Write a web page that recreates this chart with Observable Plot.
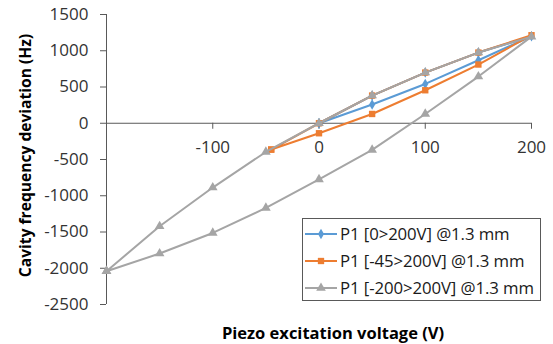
<!DOCTYPE html>
<html>
<head>
<meta charset="utf-8">
<script src="https://cdn.jsdelivr.net/npm/d3@7"></script>
<script src="https://cdn.jsdelivr.net/npm/@observablehq/plot@0.6"></script>
<style>
  html, body { margin: 0; padding: 0; background: #fff; }
  #wrap { position: relative; width: 553px; height: 344px; font-family: "Open Sans", Lato, sans-serif; }
  #legend { position: absolute; left: 302px; top: 218px; width: 239px; height: 83px; border: 1px solid #595959; box-sizing: border-box; background: #fff; padding: 1px 0 0 0; }
  .item { display: flex; align-items: center; height: 27px; font-size: 16.8px; color: #1a1a1a; white-space: nowrap; letter-spacing: -0.1px; }
  .item svg { flex: none; margin-right: 1px; }
</style>
</head>
<body>
<div id="wrap"></div>
<script>
// Series names
const seriesNames = ["P1 [0>200V] @1.3 mm", "P1 [-45>200V] @1.3 mm", "P1 [-200>200V] @1.3 mm"];
const seriesColors = ["#5B9BD5", "#ED7D31", "#A5A5A5"];
const seriesSymbols = ["diamond", "square", "triangle"];

// Series 1: 0 -> 200 -> 0
const s1Voltage = [0, 50, 100, 150, 200, 150, 100, 50, 0];
const s1Freq    = [0, 258, 542, 869, 1200, 975, 699, 382, 0];

// Series 2: -45 -> 200 -> -45
const s2Voltage = [-45, 0, 50, 100, 150, 200, 150, 100, 50, 0, -45];
const s2Freq    = [-363, -138, 128, 455, 810, 1214, 975, 699, 382, 0, -363];

// Series 3: -200 -> 200 -> -200
const s3Voltage = [-200, -150, -100, -50, 0, 50, 100, 150, 200, 150, 100, 50, 0, -50, -100, -150, -200];
const s3Freq    = [-2041, -1797, -1513, -1168, -775, -368, 128, 644, 1195, 975, 699, 382, 0, -396, -887, -1421, -2041];

// Axis ticks
const xTicks = [-100, 0, 100, 200];
const yTicks = [-2500, -2000, -1500, -1000, -500, 0, 500, 1000, 1500];

const xLabel = "Piezo excitation voltage (V)";
const yLabel = "Cavity frequency deviation (Hz)";

const toRows = (vs, fs, s) => vs.map((v, i) => ({v, f: fs[i], s}));
const rows = [
  ...toRows(s1Voltage, s1Freq, 0),
  ...toRows(s2Voltage, s2Freq, 1),
  ...toRows(s3Voltage, s3Freq, 2)
];

const axisColor = "#595959";
const font = "'Open Sans', Lato, sans-serif";

const marks = [
  Plot.ruleX([-200], {stroke: axisColor, strokeWidth: 1}),
  Plot.ruleY([0], {stroke: axisColor, strokeWidth: 1}),
  Plot.ruleX(xTicks, {x: d => d, y1: 0, y2: 0, insetBottom: -6, stroke: axisColor}),
  Plot.text(xTicks, {x: d => d, y: 0, dy: 24, text: d => String(d), fontSize: 17, fill: "#333"}),
  Plot.axisY(yTicks, {ticks: yTicks, tickSize: 6, tickPadding: 12, stroke: axisColor, fill: "#333", fontSize: 17, label: null, tickFormat: d => String(d)}),
];

for (let k = 0; k < 3; k++) {
  const data = rows.filter(r => r.s === k);
  marks.push(Plot.line(data, {x: "v", y: "f", stroke: seriesColors[k], strokeWidth: 2, curve: "linear"}));
  marks.push(Plot.dot(data, {x: "v", y: "f", symbol: () => seriesSymbols[k], fill: seriesColors[k], r: k === 0 ? 3.2 : 3.6, stroke: "none"}));
}

marks.push(Plot.text([xLabel], {frameAnchor: "bottom", lineAnchor: "bottom", dx: 14, dy: 34, fontWeight: "bold", fontSize: 16.5, fill: "#000"}));
marks.push(Plot.text([yLabel], {frameAnchor: "left", textAnchor: "middle", dx: -81, dy: -4, rotate: -90, fontWeight: "bold", fontSize: 15.6, fill: "#000"}));

const chart = Plot.plot({
  width: 553,
  height: 344,
  marginLeft: 106,
  marginRight: 22,
  marginTop: 14,
  marginBottom: 40,
  style: {fontFamily: font, background: "#fff", overflow: "visible"},
  x: {domain: [-200, 200], axis: null},
  y: {domain: [-2500, 1500], axis: null},
  symbol: {type: "identity"},
  marks
});

const wrap = document.getElementById("wrap");
wrap.appendChild(chart);

// Legend
const legend = document.createElement("div");
legend.id = "legend";
seriesNames.forEach((name, k) => {
  const item = document.createElement("div");
  item.className = "item";
  const sym = d3.symbol(k === 0 ? d3.symbolDiamond : k === 1 ? d3.symbolSquare : d3.symbolTriangle, k === 0 ? 32 : 40)();
  item.innerHTML = `<svg width="36" height="12"><line x1="2" x2="34" y1="6" y2="6" stroke="${seriesColors[k]}" stroke-width="2"/><path transform="translate(18,6)" d="${sym}" fill="${seriesColors[k]}"/></svg><span>${name}</span>`;
  legend.appendChild(item);
});
wrap.appendChild(legend);
</script>
</body>
</html>
